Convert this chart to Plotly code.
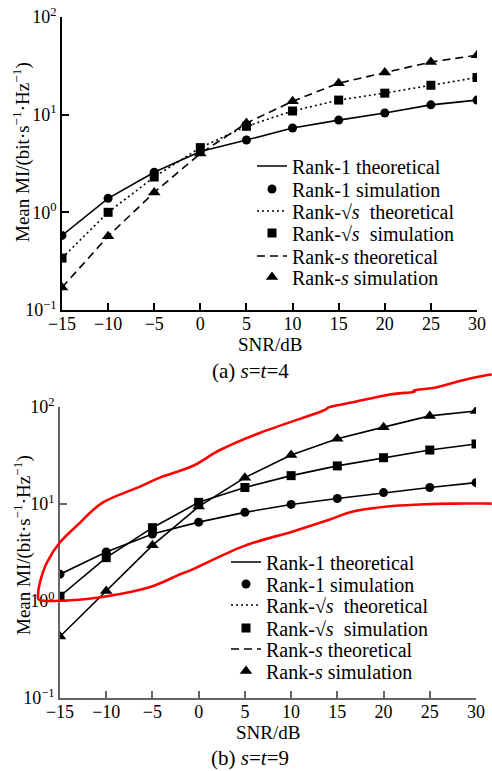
import math
import plotly.graph_objects as go

# ---------------- data ----------------
snr = [-15, -10, -5, 0, 5, 10, 15, 20, 25, 30]

# (a) s = t = 4
a_rank1 = [0.58, 1.39, 2.57, 4.2, 5.5, 7.3, 8.8, 10.4, 12.6, 14.1]
a_ranksq = [0.34, 1.0, 2.3, 4.6, 7.6, 10.9, 14.1, 16.6, 20.0, 24.0]
a_ranks = [0.17, 0.57, 1.6, 4.0, 8.2, 13.7, 21.0, 27.0, 34.6, 40.7]

# (b) s = t = 9
b_rank1 = [1.89, 3.2, 4.9, 6.5, 8.2, 9.9, 11.4, 13.1, 14.8, 16.6]
b_ranksq = [1.12, 2.8, 5.7, 10.4, 14.8, 19.6, 24.7, 30.0, 36.0, 41.6]
b_ranks = [0.43, 1.27, 3.75, 9.4, 18.7, 32.0, 47.0, 62.0, 81.0, 91.0]

# red hand-drawn highlight outline on panel (b), in (SNR dB, MI) units
red_x = [31.7, 28.6, 25.8, 23.4, 23.2, 20.4, 16.7, 14.2, 13.1, 6.6, 2.3, -0.6,
         -4.2, -6.35, -10.35, -12.8, -15.0, -16.4, -17.16, -17.38, -17.16,
         -15.76, -12.1, -8.5, -4.9, -2.0, -0.6, 4.8, 10.2, 14.2, 16.7, 20.4,
         23.9, 27.5, 31.7]
red_y = [218, 189, 160, 149, 143, 133, 112, 100, 89, 54, 36, 24.8,
         18.7, 15.1, 10.4, 6.46, 4.03, 2.51, 1.57, 1.13, 1.02,
         1.0, 1.05, 1.18, 1.43, 1.89, 2.13, 3.66, 5.22, 6.93, 8.37, 9.43,
         9.88, 10.1, 10.1]

xticks = [-15, -10, -5, 0, 5, 10, 15, 20, 25, 30]
yticks = [0.1, 1, 10, 100]
yticktext = ["10<sup>\u22121</sup>", "10<sup>0</sup>", "10<sup>1</sup>", "10<sup>2</sup>"]

legend_names = [
    "Rank-1 theoretical",
    "Rank-1 simulation",
    "Rank-\u221a<i>s</i>  theoretical",
    "Rank-\u221a<i>s</i>  simulation",
    "Rank-<i>s</i> theoretical",
    "Rank-<i>s</i> simulation",
]

W, H = 492, 771
FONT = "Liberation Serif, Times New Roman, serif"

# plot-area domains (paper units)
xdom_a = [62 / W, 477 / W]
ydom_a = [(H - 310) / H, (H - 17) / H]
xdom_b = [60 / W, 476 / W]
ydom_b = [(H - 698) / H, (H - 407) / H]

# legend row placement (pixels): text start x, row centre y
leg_a_x = 297
leg_a_rows = [166, 189, 211, 233, 256, 277]
leg_b_x = 271
leg_b_rows = [562, 584, 605, 628, 649, 671]

fig = go.Figure()

dashes = ["solid", "2px,3px", "8px,5px"]
symbols = ["circle", "square", "triangle-up"]
msizes = [9, 9, 11]


def lname(k):
    return "legend" if k == 1 else "legend%d" % k


# panel (a)
for i, ys in enumerate([a_rank1, a_ranksq, a_ranks]):
    fig.add_trace(go.Scatter(
        x=snr, y=ys, mode="lines", xaxis="x", yaxis="y",
        line=dict(color="black", width=1.6, dash=dashes[i]),
        name=legend_names[2 * i], legend=lname(2 * i + 1)))
    fig.add_trace(go.Scatter(
        x=snr, y=ys, mode="markers", xaxis="x", yaxis="y",
        marker=dict(color="black", symbol=symbols[i], size=msizes[i]),
        name=legend_names[2 * i + 1], legend=lname(2 * i + 2)))

# panel (b): drawn curves are solid; legend keeps the line styles
for i, ys in enumerate([b_rank1, b_ranksq, b_ranks]):
    fig.add_trace(go.Scatter(
        x=snr, y=ys, mode="lines", xaxis="x2", yaxis="y2",
        line=dict(color="black", width=1.6), showlegend=False))
    fig.add_trace(go.Scatter(
        x=snr, y=ys, mode="markers", xaxis="x2", yaxis="y2",
        marker=dict(color="black", symbol=symbols[i], size=msizes[i]),
        showlegend=False))
for i in range(3):
    fig.add_trace(go.Scatter(
        x=[None], y=[None], mode="lines", xaxis="x2", yaxis="y2",
        line=dict(color="black", width=1.6, dash=dashes[i]),
        name=legend_names[2 * i], legend=lname(7 + 2 * i)))
    fig.add_trace(go.Scatter(
        x=[None], y=[None], mode="markers", xaxis="x2", yaxis="y2",
        marker=dict(color="black", symbol=symbols[i], size=msizes[i]),
        name=legend_names[2 * i + 1], legend=lname(8 + 2 * i)))


# red outline -> paper coordinates through the (b) axis scales, Catmull-Rom smoothing
def to_paper(xv, yv):
    px = xdom_b[0] + (xv - (-15)) / 45 * (xdom_b[1] - xdom_b[0])
    py = ydom_b[0] + (math.log10(yv) + 1) / 3 * (ydom_b[1] - ydom_b[0])
    return px, py


pts = [to_paper(a, b) for a, b in zip(red_x, red_y)]
path = "M {:.5f},{:.5f}".format(*pts[0])
for k in range(len(pts) - 1):
    p0 = pts[k - 1] if k > 0 else pts[k]
    p1 = pts[k]
    p2 = pts[k + 1]
    p3 = pts[k + 2] if k + 2 < len(pts) else pts[k + 1]
    c1 = (p1[0] + (p2[0] - p0[0]) / 6, p1[1] + (p2[1] - p0[1]) / 6)
    c2 = (p2[0] - (p3[0] - p1[0]) / 6, p2[1] - (p3[1] - p1[1]) / 6)
    path += " C {:.5f},{:.5f} {:.5f},{:.5f} {:.5f},{:.5f}".format(*c1, *c2, *p2)

fig.add_shape(type="path", path=path, xref="paper", yref="paper",
              line=dict(color="#ff0000", width=2.6), layer="above")

axis_common = dict(showgrid=False, zeroline=False, ticks="inside", ticklen=7,
                   showline=True, mirror=False, automargin=False,
                   tickfont=dict(family=FONT, size=18, color="black"))

ytitle = "Mean MI/(bit\u00b7s<sup>\u22121</sup>\u00b7Hz<sup>\u22121</sup>)"

layout_legends = {}
for r in range(6):
    for base, xs, rows in [(1, leg_a_x, leg_a_rows), (7, leg_b_x, leg_b_rows)]:
        layout_legends[lname(base + r)] = dict(
            x=(xs - 45) / W, y=(H - rows[r]) / H, xanchor="left", yanchor="middle",
            bgcolor="rgba(0,0,0,0)", font=dict(family=FONT, size=20, color="black"),
            borderwidth=0, itemwidth=30)

fig.update_layout(
    width=W, height=H,
    margin=dict(l=0, r=0, t=0, b=0, autoexpand=False),
    paper_bgcolor="white", plot_bgcolor="white",
    font=dict(family=FONT, size=18, color="black"),
    xaxis=dict(domain=xdom_a, anchor="y", range=[-15, 30], tickvals=xticks,
               linecolor="black", linewidth=1.5, tickcolor="black", tickwidth=1.5,
               ticklabelstandoff=-3, **axis_common),
    yaxis=dict(domain=ydom_a, anchor="x", type="log", range=[-1, 2],
               tickvals=yticks, ticktext=yticktext,
               linecolor="black", linewidth=1.5, tickcolor="black", tickwidth=1.5,
               **axis_common),
    xaxis2=dict(domain=xdom_b, anchor="y2", range=[-15, 30], tickvals=xticks,
                linecolor="#666666", linewidth=1.5, tickcolor="#666666", tickwidth=1.5,
                ticklabelstandoff=-3, **axis_common),
    yaxis2=dict(domain=ydom_b, anchor="x2", type="log", range=[-1, 2],
                tickvals=yticks, ticktext=yticktext,
                linecolor="#666666", linewidth=1.5, tickcolor="#666666", tickwidth=1.5,
                **axis_common),
    showlegend=True,
    **layout_legends,
)

# axis titles and panel captions (pixel positions -> paper)
texts = [
    ("SNR/dB", 270, 344, 0, 19),
    ("(a) <i>s</i>=<i>t</i>=4", 250, 371, 0, 21),
    (ytitle, 22, 152, -90, 19),
    ("SNR/dB", 268, 732, 0, 19),
    ("(b) <i>s</i>=<i>t</i>=9", 250, 758, 0, 21),
    (ytitle, 22, 545, -90, 19),
]
for t, px, py, ang, fs in texts:
    fig.add_annotation(text=t, x=px / W, y=(H - py) / H, xref="paper", yref="paper",
                       showarrow=False, xanchor="center", yanchor="middle",
                       textangle=ang, font=dict(family=FONT, size=fs, color="black"))

fig.write_html("out.html",
               config={"displayModeBar": False},
               post_script="document.body.style.margin='0px';"
                           "document.documentElement.style.overflow='hidden';")
